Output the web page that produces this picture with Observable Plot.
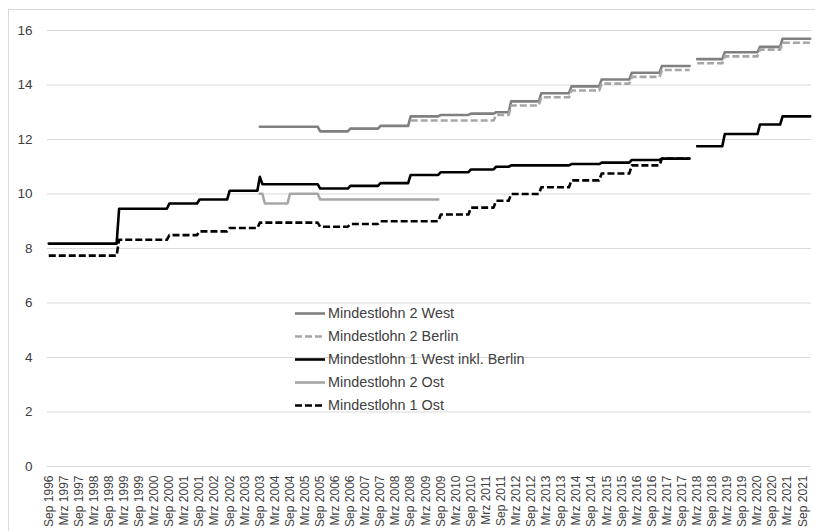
<!DOCTYPE html>
<html>
<head>
<meta charset="utf-8">
<script src="https://cdn.jsdelivr.net/npm/d3@7"></script>
<script src="https://cdn.jsdelivr.net/npm/@observablehq/plot@0.6"></script>
<style>
  html, body { margin: 0; padding: 0; background: #fff; }
  #wrap { position: relative; width: 815px; height: 531px; overflow: hidden; font-family: "Liberation Sans", Arial, sans-serif; }
  #border { position: absolute; left: 8px; top: 9px; width: 900px; height: 700px; border-top: 1px solid #d9d9d9; border-left: 1px solid #d9d9d9; }
  #chart { position: absolute; left: 0; top: 0; }
  #legend { position: absolute; left: 295px; top: 301.5px; color: #404040; font-size: 14.4px; }
  .row { display: flex; align-items: center; height: 23px; white-space: nowrap; }
  .row svg { width: 33px; height: 23px; flex: none; }
</style>
</head>
<body>
<div id="wrap">
  <div id="border"></div>
  <div id="chart"></div>
  <div id="legend"></div>
</div>
<script>
// ---- Data (Euro per hour), segments: [first month, last month, value] ----
const seriesNames = ["Mindestlohn 2 West", "Mindestlohn 2 Berlin", "Mindestlohn 1 West inkl. Berlin", "Mindestlohn 2 Ost", "Mindestlohn 1 Ost"];

const ml2West = [
  ["2003-09","2005-08",12.47],["2005-09","2006-08",12.30],["2006-09","2007-08",12.40],["2007-09","2008-08",12.50],
  ["2008-09","2009-08",12.85],["2009-09","2010-08",12.90],["2010-09","2011-06",12.95],["2011-07","2011-12",13.00],
  ["2012-01","2012-12",13.40],["2013-01","2013-12",13.70],["2014-01","2014-12",13.95],["2015-01","2015-12",14.20],
  ["2016-01","2016-12",14.45],["2017-01","2017-12",14.70],
  ["2018-03","2019-01",14.95],["2019-02","2020-03",15.20],["2020-04","2020-12",15.40],["2021-01","2021-12",15.70]
];
const ml2Berlin = [
  ["2008-09","2011-06",12.70],["2011-07","2011-12",12.90],["2012-01","2012-12",13.25],["2013-01","2013-12",13.55],
  ["2014-01","2014-12",13.80],["2015-01","2015-12",14.05],["2016-01","2016-12",14.30],["2017-01","2017-12",14.55],
  ["2018-03","2019-01",14.80],["2019-02","2020-03",15.05],["2020-04","2020-12",15.30],["2021-01","2021-12",15.55]
];
const ml1West = [
  ["1996-09","1998-12",8.18],["1999-01","2000-08",9.46],["2000-09","2001-08",9.65],["2001-09","2002-08",9.80],
  ["2002-09","2003-08",10.12],["2003-09","2003-09",10.63],["2003-10","2005-08",10.36],["2005-09","2006-08",10.20],
  ["2006-09","2007-08",10.30],["2007-09","2008-08",10.40],["2008-09","2009-08",10.70],["2009-09","2010-08",10.80],
  ["2010-09","2011-06",10.90],["2011-07","2011-12",11.00],["2012-01","2013-12",11.05],["2014-01","2014-12",11.10],
  ["2015-01","2015-12",11.15],["2016-01","2016-12",11.25],["2017-01","2017-12",11.30],
  ["2018-03","2019-01",11.75],["2019-02","2020-03",12.20],["2020-04","2020-12",12.55],["2021-01","2021-12",12.85]
];
const ml2Ost = [
  ["2003-09","2003-10",10.01],["2003-11","2004-08",9.65],["2004-09","2005-08",10.01],["2005-09","2009-08",9.80]
];
const ml1Ost = [
  ["1996-09","1998-12",7.74],["1999-01","2000-08",8.32],["2000-09","2001-08",8.49],["2001-09","2002-08",8.63],
  ["2002-09","2003-08",8.75],["2003-09","2005-08",8.95],["2005-09","2006-08",8.80],["2006-09","2007-08",8.90],
  ["2007-09","2009-08",9.00],["2009-09","2010-08",9.25],["2010-09","2011-06",9.50],["2011-07","2011-12",9.75],
  ["2012-01","2012-12",10.00],["2013-01","2013-12",10.25],["2014-01","2014-12",10.50],["2015-01","2015-12",10.75],
  ["2016-01","2016-12",11.05],["2017-01","2017-12",11.30]
];

const firstMonth = "1996-09";
const lastMonth = "2021-12";
const yTicks = [0, 2, 4, 6, 8, 10, 12, 14, 16];
const tickMonthNames = {3: "Mrz", 9: "Sep"};
const tickYears = d3.range(1996, 2022);

// ---- helpers ----
const monthIndex = s => { const [y, m] = s.split("-").map(Number); const [y0, m0] = firstMonth.split("-").map(Number); return (y - y0) * 12 + (m - m0); };
const nMonths = monthIndex(lastMonth) + 1;

// tick labels (every half year: Sep / Mrz)
const xTicks = [];
const xTickLabels = [];
for (const y of tickYears) for (const m of [3, 9]) {
  const idx = monthIndex(`${y}-${String(m).padStart(2, "0")}`);
  if (idx >= 0 && idx < nMonths) { xTicks.push(idx); xTickLabels.push(`${tickMonthNames[m]} ${y}`); }
}
const labelOf = new Map(xTicks.map((t, i) => [t, xTickLabels[i]]));

function toPoints(segs) {
  const out = [];
  segs.forEach(([a, b, v], i) => {
    if (i > 0 && monthIndex(a) !== monthIndex(segs[i - 1][1]) + 1) out.push({m: monthIndex(a) - 0.5, v: NaN});
    out.push({m: monthIndex(a), v}, {m: monthIndex(b), v});
  });
  return out;
}

const styles = [
  {stroke: "#808080", dash: null},
  {stroke: "#a6a6a6", dash: "7,3"},
  {stroke: "#000000", dash: null},
  {stroke: "#a6a6a6", dash: null},
  {stroke: "#000000", dash: "7,3"}
];
const allSeries = [ml2West, ml2Berlin, ml1West, ml2Ost, ml1Ost];

const lineMarks = allSeries.map((s, i) => Plot.line(toPoints(s), {
  x: "m", y: "v",
  stroke: styles[i].stroke, strokeWidth: 2.6,
  strokeDasharray: styles[i].dash || undefined,
  strokeLinecap: styles[i].dash ? "butt" : "round",
  strokeLinejoin: "round"
}));

const chart = Plot.plot({
  width: 815, height: 531,
  marginLeft: 47, marginRight: 4, marginTop: 30, marginBottom: 65,
  x: {domain: [-0.5, nMonths - 0.5]},
  y: {domain: [0, 16]},
  style: {fontFamily: "'Liberation Sans', Arial, sans-serif", background: "transparent", color: "#404040"},
  marks: [
    Plot.gridY(yTicks, {stroke: "#d9d9d9", strokeOpacity: 1, strokeWidth: 1}),
    Plot.axisY(yTicks, {tickSize: 0, tickPadding: 15, fontSize: 13.5, label: null, tickFormat: d => String(d)}),
    Plot.axisX(xTicks, {tickSize: 0, tickPadding: 9, tickRotate: -90, fontSize: 12, label: null, tickFormat: d => labelOf.get(d)}),
    ...lineMarks
  ]
});
document.getElementById("chart").appendChild(chart);

// ---- legend ----
const legend = document.getElementById("legend");
seriesNames.forEach((name, i) => {
  const row = document.createElement("div");
  row.className = "row";
  const st = styles[i];
  row.innerHTML = `<svg viewBox="0 0 33 23"><line x1="0" x2="30" y1="11.5" y2="11.5" stroke="${st.stroke}" stroke-width="2.6" ${st.dash ? `stroke-dasharray="${st.dash}"` : ""}/></svg><span>${name}</span>`;
  legend.appendChild(row);
});
</script>
</body>
</html>
